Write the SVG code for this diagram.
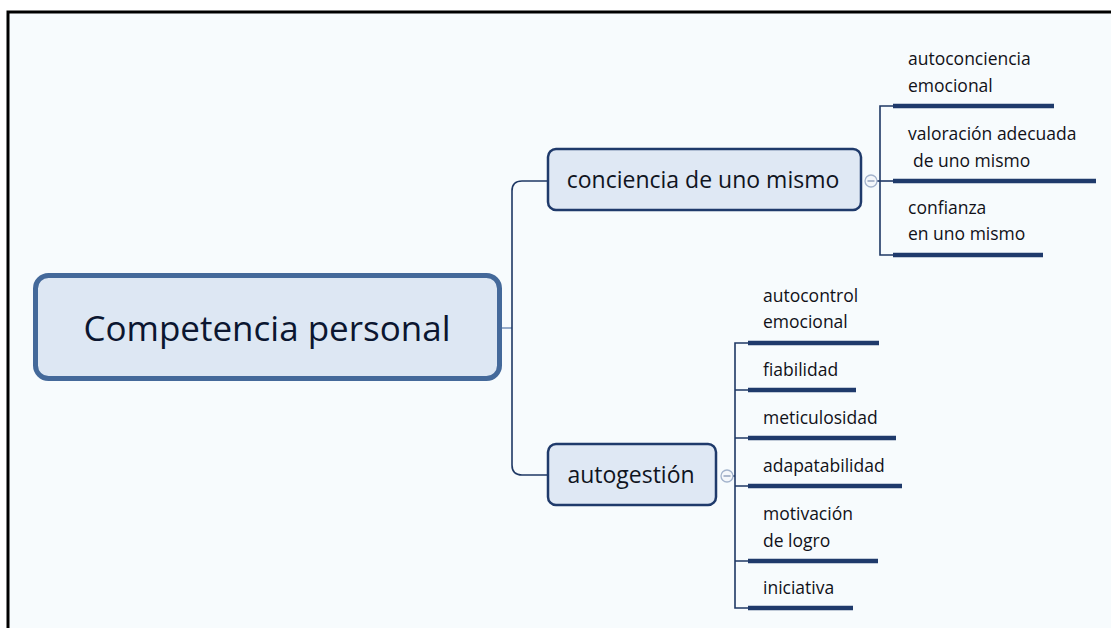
<svg xmlns="http://www.w3.org/2000/svg" width="1111" height="628" viewBox="0 0 1111 628">
<style>
.frame{fill:#f7fbfd;stroke:#000;stroke-width:3}
.root{fill:#dde7f3;stroke:#44699a;stroke-width:5}
.main{fill:#dfe8f4;stroke:#1f3a6b;stroke-width:2.5}
.conn{fill:none;stroke:#1f3864;stroke-width:1.6}
.under{fill:none;stroke:#1f3a6b;stroke-width:4.5}
.tog{fill:#f4f7fb;stroke:#a3b3cc;stroke-width:1.3}
.togm{stroke:#8596b3;stroke-width:1.3}
text{font-family:"Open Sans","Noto Sans","DejaVu Sans",sans-serif;fill:#111118}
.t0{font-size:35px;fill:#0b1630;text-anchor:middle}
.t1{font-size:23px;fill:#10141e;text-anchor:middle}
.t2{font-size:17.5px}
</style>
<rect class="frame" x="8" y="12" width="1112" height="630"/>
<g id="connectors">
  <line x1="502" y1="328" x2="512" y2="328" stroke="#7b97bb" stroke-width="1.6"/>
  <path class="conn" d="M547,181 H522 Q512,181 512,191 V465 Q512,475 522,475 H547"/>
  <line class="conn" x1="877" y1="181" x2="880" y2="181"/>
  <path class="conn" d="M893,106 H880 V255 H893"/>
  <line class="conn" x1="880" y1="181" x2="893" y2="181"/>
  <line class="conn" x1="733" y1="476" x2="735" y2="476"/>
  <path class="conn" d="M748,343 H735 V608 H748"/>
  <path class="conn" d="M735,390 H748 M735,438 H748 M735,486 H748 M735,561 H748"/>
</g>
<g id="root">
  <rect class="root" x="35.5" y="275.5" width="464" height="103" rx="13"/>
  <text class="t0" x="267" y="341">Competencia personal</text>
</g>
<g id="n-conciencia">
  <rect class="main" x="548" y="149" width="313" height="61" rx="8"/>
  <text class="t1" x="703" y="188">conciencia de uno mismo</text>
  <circle class="tog" cx="871" cy="181" r="6"/>
  <line class="togm" x1="867.5" y1="181" x2="874.5" y2="181"/>
</g>
<g id="n-autogestion">
  <rect class="main" x="548" y="444" width="168" height="61" rx="8"/>
  <text class="t1" x="631" y="483">autogestión</text>
  <circle class="tog" cx="727" cy="476" r="6"/>
  <line class="togm" x1="723.5" y1="476" x2="730.5" y2="476"/>
</g>
<g id="l-autoconciencia">
  <line class="under" x1="893" y1="106" x2="1054" y2="106"/>
  <text class="t2" x="908" y="65">autoconciencia</text>
  <text class="t2" x="908" y="92">emocional</text>
</g>
<g id="l-valoracion">
  <line class="under" x1="893" y1="181" x2="1096" y2="181"/>
  <text class="t2" x="908" y="140">valoración adecuada</text>
  <text class="t2" x="913" y="167">de uno mismo</text>
</g>
<g id="l-confianza">
  <line class="under" x1="893" y1="255" x2="1043" y2="255"/>
  <text class="t2" x="908" y="214">confianza</text>
  <text class="t2" x="908" y="240">en uno mismo</text>
</g>
<g id="l-autocontrol">
  <line class="under" x1="748" y1="343" x2="879" y2="343"/>
  <text class="t2" x="763" y="302">autocontrol</text>
  <text class="t2" x="763" y="328">emocional</text>
</g>
<g id="l-fiabilidad">
  <line class="under" x1="748" y1="390" x2="856" y2="390"/>
  <text class="t2" x="763" y="376">fiabilidad</text>
</g>
<g id="l-meticulosidad">
  <line class="under" x1="748" y1="438" x2="896" y2="438"/>
  <text class="t2" x="763" y="424">meticulosidad</text>
</g>
<g id="l-adapatabilidad">
  <line class="under" x1="748" y1="486" x2="902" y2="486"/>
  <text class="t2" x="763" y="472">adapatabilidad</text>
</g>
<g id="l-motivacion">
  <line class="under" x1="748" y1="561" x2="878" y2="561"/>
  <text class="t2" x="763" y="520">motivación</text>
  <text class="t2" x="763" y="547">de logro</text>
</g>
<g id="l-iniciativa">
  <line class="under" x1="748" y1="608" x2="853" y2="608"/>
  <text class="t2" x="763" y="594">iniciativa</text>
</g>
</svg>
